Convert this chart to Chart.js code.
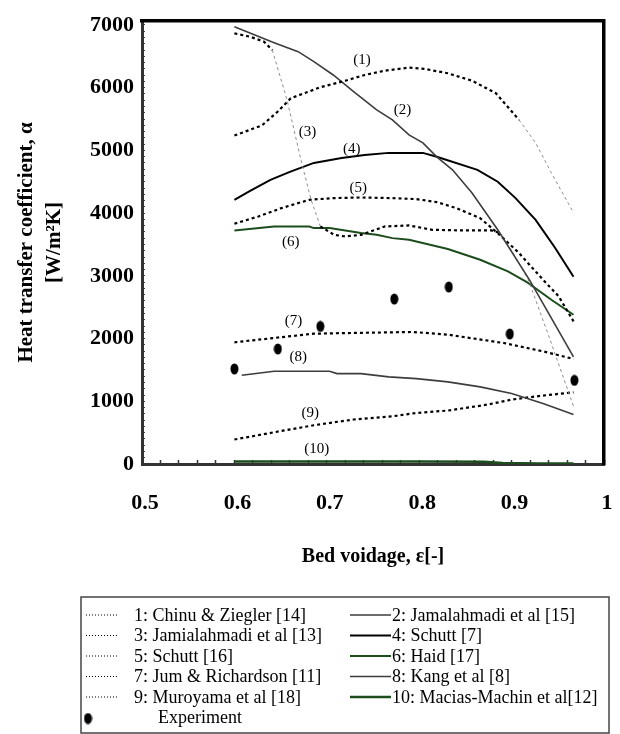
<!DOCTYPE html>
<html>
<head>
<meta charset="utf-8">
<script src="https://cdn.jsdelivr.net/npm/chart.js@4.4.1/dist/chart.umd.min.js"></script>
<style>
  html, body { margin: 0; padding: 0; background: #fff; }
  #wrap { width: 620px; height: 734px; }
</style>
</head>
<body>
<div id="wrap"><canvas id="chart" width="620" height="734"></canvas></div>
<script>
// Bed voidage (x) and heat transfer coefficient (y)
const voidage1 = [0.600, 0.630, 0.647, 0.661, 0.693, 0.720, 0.741, 0.763, 0.789, 0.806, 0.831, 0.857, 0.883, 0.908, 0.926, 0.943, 0.967];
const alpha1 = [5236, 5400, 5620, 5831, 6006, 6110, 6202, 6271, 6319, 6298, 6229, 6112, 5911, 5486, 5119, 4642, 4005];
const voidage2 = [0.600, 0.643, 0.669, 0.686, 0.707, 0.729, 0.754, 0.771, 0.789, 0.804, 0.819, 0.836, 0.857, 0.885, 0.920, 0.967];
const alpha2 = [6970, 6717, 6573, 6414, 6202, 5936, 5645, 5486, 5247, 5119, 4897, 4690, 4323, 3734, 2920, 1707];
const voidage3 = [0.600, 0.617, 0.632, 0.641, 0.657, 0.672, 0.683, 0.693, 0.708, 0.720, 0.737, 0.763, 0.789, 0.814, 0.849, 0.878, 0.887, 0.900, 0.918, 0.940, 0.967];
const alpha3 = [6866, 6812, 6733, 6600, 5804, 4849, 4212, 3787, 3654, 3627, 3654, 3787, 3803, 3734, 3723, 3723, 3686, 3400, 2940, 2050, 920];
const voidage4 = [0.600, 0.617, 0.639, 0.660, 0.686, 0.716, 0.741, 0.767, 0.804, 0.819, 0.863, 0.885, 0.904, 0.926, 0.947, 0.967];
const alpha4 = [4212, 4355, 4530, 4657, 4800, 4880, 4928, 4960, 4960, 4897, 4690, 4500, 4243, 3893, 3447, 2985];
const voidage5 = [0.600, 0.626, 0.651, 0.681, 0.707, 0.737, 0.771, 0.797, 0.819, 0.840, 0.866, 0.887, 0.908, 0.934, 0.951, 0.967];
const alpha5 = [3830, 3946, 4080, 4212, 4239, 4249, 4239, 4223, 4175, 4080, 3920, 3654, 3363, 2938, 2672, 2274];
const voidage6 = [0.600, 0.643, 0.681, 0.686, 0.703, 0.737, 0.754, 0.771, 0.789, 0.831, 0.866, 0.896, 0.917, 0.943, 0.967];
const alpha6 = [3723, 3787, 3787, 3761, 3761, 3681, 3654, 3601, 3575, 3427, 3256, 3070, 2895, 2619, 2380];
const voidage7 = [0.600, 0.643, 0.686, 0.729, 0.793, 0.831, 0.891, 0.934, 0.967];
const alpha7 = [1940, 2009, 2078, 2089, 2105, 2062, 1930, 1796, 1675];
const voidage8 = [0.608, 0.643, 0.703, 0.711, 0.737, 0.767, 0.797, 0.831, 0.866, 0.900, 0.934, 0.967];
const alpha8 = [1414, 1478, 1478, 1441, 1441, 1389, 1361, 1309, 1229, 1123, 963, 788];
const voidage9 = [0.600, 0.643, 0.686, 0.729, 0.771, 0.797, 0.831, 0.874, 0.900, 0.934, 0.967];
const alpha9 = [390, 506, 618, 709, 761, 814, 852, 947, 1027, 1091, 1143];
const voidage10 = [0.600, 0.700, 0.800, 0.870, 0.890, 0.930, 0.967];
const alpha10 = [40, 40, 40, 35, 15, 8, 8];
const expVoidage = [0.600, 0.647, 0.693, 0.773, 0.832, 0.898, 0.968];
const expAlpha = [1516, 1834, 2194, 2630, 2822, 2073, 1334];

const seriesNames = [
  "1: Chinu & Ziegler [14]", "2: Jamalahmadi et al [15]",
  "3: Jamialahmadi et al [13]", "4: Schutt [7]",
  "5: Schutt [16]", "6: Haid [17]",
  "7: Jum & Richardson [11]", "8: Kang et al [8]",
  "9: Muroyama et al [18]", "10: Macias-Machin et al[12]",
  "Experiment"
];

// curve numbers written next to the lines (in data units)
const tagText = ["(1)", "(2)", "(3)", "(4)", "(5)", "(6)", "(7)", "(8)", "(9)", "(10)"];
const tagVoidage = [0.738, 0.782, 0.679, 0.727, 0.734, 0.661, 0.664, 0.669, 0.682, 0.689];
const tagAlpha = [6441, 5645, 5299, 5024, 4398, 3532, 2274, 1701, 815, 231];

const xTicksLabelled = [0.5, 0.6, 0.7, 0.8, 0.9, 1.0];

const SERIF = "'Liberation Serif', 'Times New Roman', serif";
const GREY = "#3d3d3d", GREEN = "#1d4d1d";

// where the plot frame sits on the page
const FRAME = { left: 142, top: 21, right: 604, bottom: 464 };

const toPoints = (xs, ys) => xs.map((x, i) => ({ x, y: ys[i] }));

// dotted lines print thin and grey where they drop steeply
const steeperThan = (limit) => (ctx) => Math.abs(ctx.p1.y - ctx.p0.y) > limit * Math.abs(ctx.p1.x - ctx.p0.x);

const dotted = (label, xs, ys, limit = Infinity) => {
  const steep = steeperThan(limit);
  return {
    label, data: toPoints(xs, ys),
    borderColor: "#000", borderWidth: 2.2, borderDash: [3, 3],
    pointRadius: 0, tension: 0, fill: false,
    segment: {
      borderColor: (ctx) => steep(ctx) ? "#8c8c8c" : undefined,
      borderWidth: (ctx) => steep(ctx) ? 1 : undefined
    }
  };
};

const solid = (label, xs, ys, color, width) => ({
  label, data: toPoints(xs, ys),
  borderColor: color, borderWidth: width,
  pointRadius: 0, tension: 0, fill: false
});

// slightly tall black dot used for the measurements
const dot = document.createElement("canvas");
dot.width = 9; dot.height = 12;
(() => {
  const c = dot.getContext("2d");
  c.fillStyle = "#000";
  c.beginPath();
  c.ellipse(4.5, 6, 4, 5.5, 0, 0, Math.PI * 2);
  c.fill();
})();

const datasets = [
  dotted(seriesNames[0], voidage1, alpha1, 1.3),
  solid(seriesNames[1], voidage2, alpha2, GREY, 1.6),
  dotted(seriesNames[2], voidage3, alpha3, 1.3),
  solid(seriesNames[3], voidage4, alpha4, "#000", 2),
  dotted(seriesNames[4], voidage5, alpha5),
  solid(seriesNames[5], voidage6, alpha6, GREEN, 2),
  dotted(seriesNames[6], voidage7, alpha7),
  solid(seriesNames[7], voidage8, alpha8, GREY, 1.6),
  dotted(seriesNames[8], voidage9, alpha9),
  solid(seriesNames[9], voidage10, alpha10, GREEN, 2.5),
  {
    label: seriesNames[10], data: toPoints(expVoidage, expAlpha),
    showLine: false, pointStyle: dot, pointRadius: 5,
    borderColor: "#000", backgroundColor: "#000"
  }
];

const isLabelled = (v) => xTicksLabelled.some(t => Math.abs(t - v) < 1e-6);

//Etiquetas (1)...(10) sobre las curvas
const tagPlugin = {
  id: "tags",
  afterDatasetsDraw(chart) {
    const { ctx, scales: { x, y } } = chart;
    ctx.save();
    ctx.font = "15px " + SERIF;
    ctx.fillStyle = "#000";
    ctx.textAlign = "center";
    ctx.textBaseline = "middle";
    tagText.forEach((t, i) => {
      ctx.fillText(t, x.getPixelForValue(tagVoidage[i]), y.getPixelForValue(tagAlpha[i]));
    });
    ctx.restore();
  }
};

//Leyenda en dos columnas dentro de un recuadro
const legendPlugin = {
  id: "boxLegend",
  afterDraw(chart) {
    const { ctx } = chart;
    const box = { left: 81, top: 597, right: 609, bottom: 733 };
    const rowY = (r) => 616 + r * 20.5;
    ctx.save();
    ctx.strokeStyle = "#444";
    ctx.lineWidth = 1.5;
    ctx.strokeRect(box.left, box.top, box.right - box.left, box.bottom - box.top);
    ctx.font = "18px " + SERIF;
    ctx.fillStyle = "#000";
    ctx.textBaseline = "middle";
    chart.data.datasets.forEach((ds, i) => {
      const y = rowY(Math.floor(i / 2));
      if (ds.showLine === false) {
        ctx.drawImage(dot, 88 - 4.5, y - 6);
        ctx.fillText(ds.label, 158, y);
        return;
      }
      const left = i % 2 === 0;
      const x0 = left ? 86 : 350, x1 = left ? 117 : 391;
      ctx.beginPath();
      ctx.strokeStyle = ds.borderColor;
      if (left) {
        ctx.lineWidth = 1;
        ctx.setLineDash([1, 2]);
      } else {
        ctx.lineWidth = ds.borderWidth;
        ctx.setLineDash([]);
      }
      ctx.moveTo(x0, y - 1);
      ctx.lineTo(x1, y - 1);
      ctx.stroke();
      ctx.fillText(ds.label, left ? 134 : 392, y);
    });
    ctx.restore();
  }
};

const chart = new Chart(document.getElementById("chart"), {
  type: "scatter",
  data: { datasets },
  plugins: [tagPlugin, legendPlugin],
  options: {
    responsive: false,
    animation: false,
    events: [],
    layout: { padding: { left: 11, right: 16, top: 8, bottom: 169 } },
    plugins: { legend: { display: false }, tooltip: { enabled: false } },
    datasets: { scatter: { showLine: true } },
    scales: {
      x: {
        type: "linear", position: "bottom", min: 0.5, max: 1.0,
        ticks: {
          stepSize: 0.02, autoSkip: false, maxRotation: 0, padding: 4, labelOffset: 3,
          color: "#000", font: { family: SERIF, size: 22, weight: "bold" },
          // empty first line pushes the numbers down without widening the side padding
          callback: (v) => isLabelled(v) ? ["", String(Number(v.toFixed(1)))] : ""
        },
        grid: { drawOnChartArea: false, drawTicks: true, tickLength: -4, tickColor: "#333", tickWidth: 1.5 },
        border: { color: "#333", width: 3 },
        title: {
          display: true, text: "Bed voidage, ε[-]", color: "#000",
          font: { family: SERIF, size: 20, weight: "bold", lineHeight: 0.9 },
          padding: { top: 27, bottom: 0 }
        }
      },
      y: {
        type: "linear", position: "left", min: 0, max: 7064,
        ticks: {
          stepSize: 100, autoSkip: false, includeBounds: false, padding: 11,
          color: "#000", font: { family: SERIF, size: 22, weight: "bold", lineHeight: 0.9 },
          callback: (v) => v % 1000 === 0 ? String(v) : ""
        },
        grid: { drawOnChartArea: false, drawTicks: true, tickLength: -3, tickColor: "#444", tickWidth: 1 },
        border: { color: "#333", width: 3 },
        title: {
          display: true, text: ["Heat transfer coefficient, α", "[W/m²K]"], color: "#000",
          font: { family: SERIF, size: 21, weight: "bold", lineHeight: 1.3 },
          padding: { top: 3, bottom: 11 }
        }
      },
      xTop: {
        type: "linear", position: "top", min: 0, max: 1,
        ticks: { display: false }, grid: { display: false, drawTicks: false },
        border: { color: "#000", width: 3.5 }
      },
      yRight: {
        type: "linear", position: "right", min: 0, max: 1,
        ticks: { display: false }, grid: { display: false, drawTicks: false },
        border: { color: "#000", width: 3.5 }
      }
    }
  }
});

// nudge the outer padding once so the plot frame lands where the figure has it
const area = chart.chartArea;
const pad = chart.options.layout.padding;
pad.left += FRAME.left - area.left;
pad.top += FRAME.top - area.top;
pad.right += area.right - FRAME.right;
pad.bottom += area.bottom - FRAME.bottom;
chart.update();
</script>
</body>
</html>
